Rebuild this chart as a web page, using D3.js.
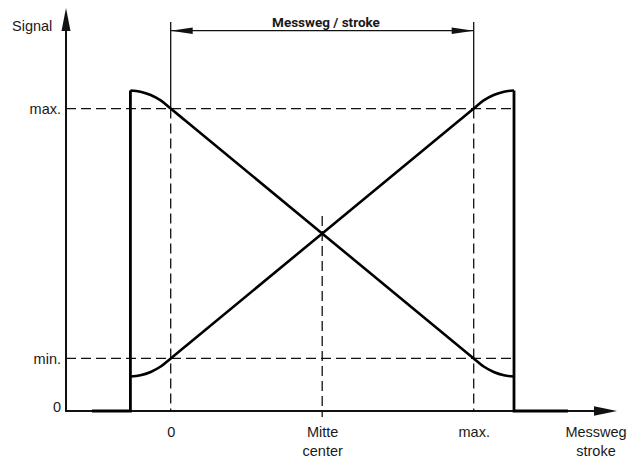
<!DOCTYPE html>
<html>
<head>
<meta charset="utf-8">
<script src="https://cdn.jsdelivr.net/npm/d3@7"></script>
<style>
body { margin: 0; background: #fff; }
text { font-family: "Liberation Sans", Arial, sans-serif; fill: #1a1a1a; }
</style>
</head>
<body>
<div id="chart"></div>
<script>
// Messweg / stroke: 0 = start of stroke, 1 = max.
var strokePos     = [-0.133, -0.1, -0.066, -0.033, 0, 0.05, 0.95, 1, 1.033, 1.066, 1.1, 1.133];
var signalFalling = [1.060, 1.056, 1.045, 1.027, 1.0, 0.959, 0.215, 0.174, 0.147, 0.129, 0.118, 0.114];
var signalRising  = [0.114, 0.118, 0.129, 0.147, 0.174, 0.215, 0.959, 1.0, 1.027, 1.045, 1.056, 1.060];

// signal outside the measuring range
var offLeft  = [[-0.26, 0], [-0.133, 0], [-0.133, 1.060]];
var offRight = [[1.133, 1.060], [1.133, 0], [1.311, 0]];

var xTickValues = [0, 0.5, 1];
var xTickLabels = [["0"], ["Mitte", "center"], ["max."]];
var yTickValues = [0, 0.174, 1];
var yTickLabels = ["0", "min.", "max."];

var svgWidth = 640;
var svgHeight = 459;

var svg = d3.select("#chart")
    .append("svg")
    .attr("width", svgWidth)
    .attr("height", svgHeight);

var x = d3.scaleLinear().domain([0, 1]).range([170.7, 473.7]);
var y = d3.scaleLinear().domain([0, 1]).range([411, 108.6]);

// axis extents (data units)
var xFrom = -0.3455, xTo = 1.473, yTop = 1.333;
var wallR = 1.133;

var line = d3.line().x(d => x(d[0])).y(d => y(d[1]));

// dashed guide lines
var dash = "10,5";
yTickValues.slice(1).forEach(function(v) {
    svg.append("line")
        .attr("x1", x(xFrom)).attr("x2", x(wallR))
        .attr("y1", y(v)).attr("y2", y(v))
        .attr("stroke", "#111").attr("stroke-width", 1.3)
        .attr("stroke-dasharray", dash);
});
[0, 1].forEach(function(v) {
    svg.append("line")
        .attr("x1", x(v)).attr("x2", x(v))
        .attr("y1", y(1)).attr("y2", y(0))
        .attr("stroke", "#111").attr("stroke-width", 1.3)
        .attr("stroke-dasharray", dash);
    // solid extension line up to the dimension line
    svg.append("line")
        .attr("x1", x(v)).attr("x2", x(v))
        .attr("y1", y(1.286)).attr("y2", y(1))
        .attr("stroke", "#111").attr("stroke-width", 1.3);
});
svg.append("line")
    .attr("x1", x(0.5)).attr("x2", x(0.5))
    .attr("y1", y(0.645)).attr("y2", y(-0.02))
    .attr("stroke", "#111").attr("stroke-width", 1.3)
    .attr("stroke-dasharray", dash);

// dimension line Messweg / stroke
var dimY = y(1.2576);
svg.append("line")
    .attr("x1", x(0)).attr("x2", x(1))
    .attr("y1", dimY).attr("y2", dimY)
    .attr("stroke", "#111").attr("stroke-width", 1.3);
svg.append("path")
    .attr("d", `M${x(0)},${dimY}L${x(0) + 22},${dimY - 3.3}L${x(0) + 22},${dimY + 3.3}Z`)
    .attr("fill", "#111");
svg.append("path")
    .attr("d", `M${x(1)},${dimY}L${x(1) - 22},${dimY - 3.3}L${x(1) - 22},${dimY + 3.3}Z`)
    .attr("fill", "#111");
svg.append("text")
    .attr("x", 326).attr("y", dimY - 3.5)
    .attr("text-anchor", "middle")
    .style("font-family", "Roboto, sans-serif")
    .style("font-weight", "bold")
    .style("font-size", "13.5px")
    .text("Messweg / stroke");

// axes
svg.append("line")
    .attr("x1", x(xFrom)).attr("x2", x(xTo) - 20)
    .attr("y1", y(0)).attr("y2", y(0))
    .attr("stroke", "#111").attr("stroke-width", 2);
svg.append("path")
    .attr("d", `M${x(xTo)},${y(0)}L${x(xTo) - 23},${y(0) - 4.8}L${x(xTo) - 23},${y(0) + 4.8}Z`)
    .attr("fill", "#111");
svg.append("line")
    .attr("x1", x(xFrom)).attr("x2", x(xFrom))
    .attr("y1", y(0) + 1).attr("y2", y(yTop) + 20)
    .attr("stroke", "#111").attr("stroke-width", 2);
svg.append("path")
    .attr("d", `M${x(xFrom)},${y(yTop)}L${x(xFrom) - 4.5},${y(yTop) + 23}L${x(xFrom) + 4.5},${y(yTop) + 23}Z`)
    .attr("fill", "#111");

// tick labels
var bottomAxis = d3.axisBottom(x)
    .tickValues(xTickValues)
    .tickSize(0)
    .tickFormat("");
var xAxis = svg.append("g")
    .attr("transform", `translate(0, ${y(0)})`)
    .call(bottomAxis);
xAxis.select(".domain").remove();
xAxis.selectAll(".tick").each(function(d, i) {
    var t = d3.select(this).append("text")
        .attr("text-anchor", "middle")
        .style("font-size", "14.5px");
    xTickLabels[i].forEach(function(s, j) {
        t.append("tspan").attr("x", 0).attr("y", 26 + j * 19).text(s);
    });
});

var leftAxis = d3.axisLeft(y)
    .tickValues(yTickValues)
    .tickSize(0)
    .tickFormat("");
var yAxis = svg.append("g")
    .attr("transform", `translate(${x(xFrom)}, 0)`)
    .call(leftAxis);
yAxis.select(".domain").remove();
yAxis.selectAll(".tick").append("text")
    .attr("x", -5)
    .attr("y", (d, i) => i === 0 ? 0 : 5)
    .attr("text-anchor", "end")
    .style("font-size", "14.5px")
    .text((d, i) => yTickLabels[i]);

svg.append("text")
    .attr("x", 12).attr("y", 31)
    .style("font-size", "14.5px")
    .text("Signal");
svg.append("text")
    .attr("x", 596).attr("y", y(0) + 26)
    .attr("text-anchor", "middle")
    .style("font-size", "14.5px")
    .text("Messweg");
svg.append("text")
    .attr("x", 596).attr("y", y(0) + 45)
    .attr("text-anchor", "middle")
    .style("font-size", "14.5px")
    .text("stroke");

// signal curves
var curve = d3.line()
    .x(d => x(d[0])).y(d => y(d[1]))
    .curve(d3.curveMonotoneX);
[signalFalling, signalRising].forEach(function(series) {
    svg.append("path")
        .attr("d", curve(strokePos.map((p, i) => [p, series[i]])))
        .attr("fill", "none")
        .attr("stroke", "#000")
        .attr("stroke-width", 2.6);
});
[offLeft, offRight].forEach(function(seg) {
    svg.append("path")
        .attr("d", line(seg))
        .attr("fill", "none")
        .attr("stroke", "#000")
        .attr("stroke-width", 2.8)
        .attr("stroke-linejoin", "miter");
});
</script>
</body>
</html>
